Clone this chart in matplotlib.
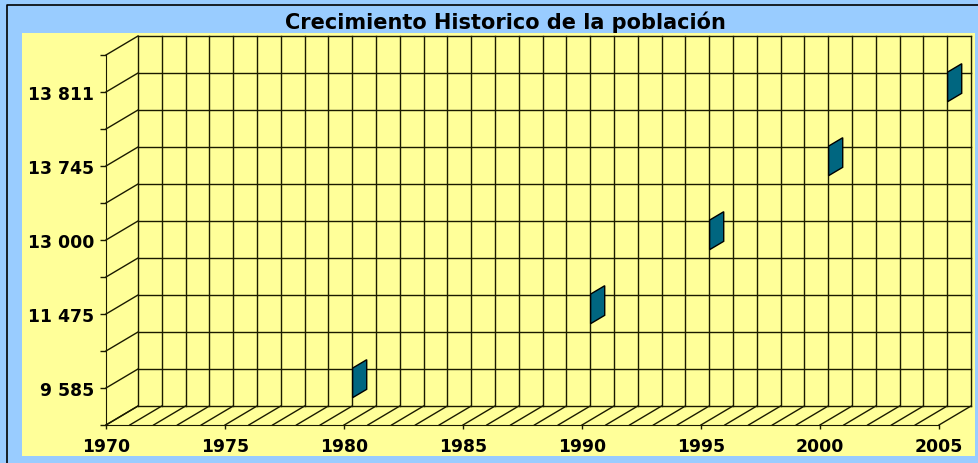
import numpy as np
import matplotlib
matplotlib.use("Agg")
import matplotlib.pyplot as plt
from matplotlib.patches import Polygon, Rectangle
from matplotlib.lines import Line2D

# data (y axis is an evenly spaced category scale)
years = [1980, 1990, 1995, 2000, 2005]
poblacion = ["9 585", "11 475", "13 000", "13 745", "13 811"]
pos_y = [1, 3, 5, 7, 9]
ylabels = ["", "9 585", "", "11 475", "", "13 000", "", "13 745", "", "13 811", ""]
xticks = [1970, 1975, 1980, 1985, 1990, 1995, 2000, 2005]

W, H, DPI = 979, 464, 100
BLUE = "#99CCFF"
YELLOW = "#FFFF99"
TEAL = "#006680"

plt.rcParams['font.family'] = ['DejaVu Sans']

fig = plt.figure(figsize=(W / DPI, H / DPI), dpi=DPI, facecolor=BLUE)

# yellow plot area + outer border
fig.patches.append(Rectangle((22 / W, 1 - 457 / H), (975 - 22) / W, (457 - 34) / H,
                             transform=fig.transFigure, facecolor=YELLOW, edgecolor="none", zorder=-5))
fig.lines.append(Line2D([7 / W, 7 / W, 1], [0, 1 - 6 / H, 1 - 6 / H], transform=fig.transFigure,
                        color="black", lw=1.2))

# front plane of the pseudo 3d box
x0, x1, yt, yb = 106, 939, 56, 426
ax = fig.add_axes([x0 / W, 1 - yb / H, (x1 - x0) / W, (yb - yt) / H])
ax.set_facecolor("none")
ax.set_xlim(1970, 2005)
ax.set_ylim(0, 10)

# depth offset, pixels -> data units
ppx = (x1 - x0) / 35.0
ppy = (yb - yt) / 10.0
ddx = 32 / ppx
ddy = 19 / ppy

lc = "#1a1a00"
lw = 1.0
all_years = np.arange(1970, 2006)

# back wall grid
for yr in all_years:
    ax.plot([yr + ddx, yr + ddx], [ddy, 10 + ddy], color=lc, lw=lw, clip_on=False)
for i in range(11):
    ax.plot([1970 + ddx, 2005 + ddx], [i + ddy, i + ddy], color=lc, lw=lw, clip_on=False)
    # left wall
    ax.plot([1970, 1970 + ddx], [i, i + ddy], color=lc, lw=lw, clip_on=False)
# floor
for yr in all_years:
    ax.plot([yr, yr + ddx], [0, ddy], color=lc, lw=lw, clip_on=False)

# axes
for s in ["top", "right"]:
    ax.spines[s].set_visible(False)
ax.spines["left"].set_color(lc)
ax.spines["bottom"].set_color(lc)
ax.set_yticks(range(11))
ax.set_yticklabels(ylabels)
ax.set_xticks(xticks)
ax.set_xticklabels([str(x) for x in xticks])
ax.tick_params(axis="y", length=4.3, width=lw, color=lc, pad=4.3, labelsize=12.4)
ax.tick_params(axis="x", length=3, width=lw, color=lc, pad=6, labelsize=12.4)
for t in ax.get_xticklabels() + ax.get_yticklabels():
    t.set_fontweight("bold")

# markers: thin flat 3d slabs lying in the depth direction
a, b, h = 0.27, 0.71, 0.40
for yr, py in zip(years, pos_y):
    pts = [(yr + a * ddx, py + a * ddy - h), (yr + b * ddx, py + b * ddy - h),
           (yr + b * ddx, py + b * ddy + h), (yr + a * ddx, py + a * ddy + h)]
    ax.add_patch(Polygon(pts, closed=True, facecolor=TEAL, edgecolor="black",
                         lw=1.0, clip_on=False, zorder=5))

fig.text(505 / W, 1 - 29.3 / H, "Crecimiento Historico de la población", ha="center",
         va="baseline", fontsize=15, fontweight="bold")

fig.savefig("out.png", dpi=DPI, facecolor=BLUE)
